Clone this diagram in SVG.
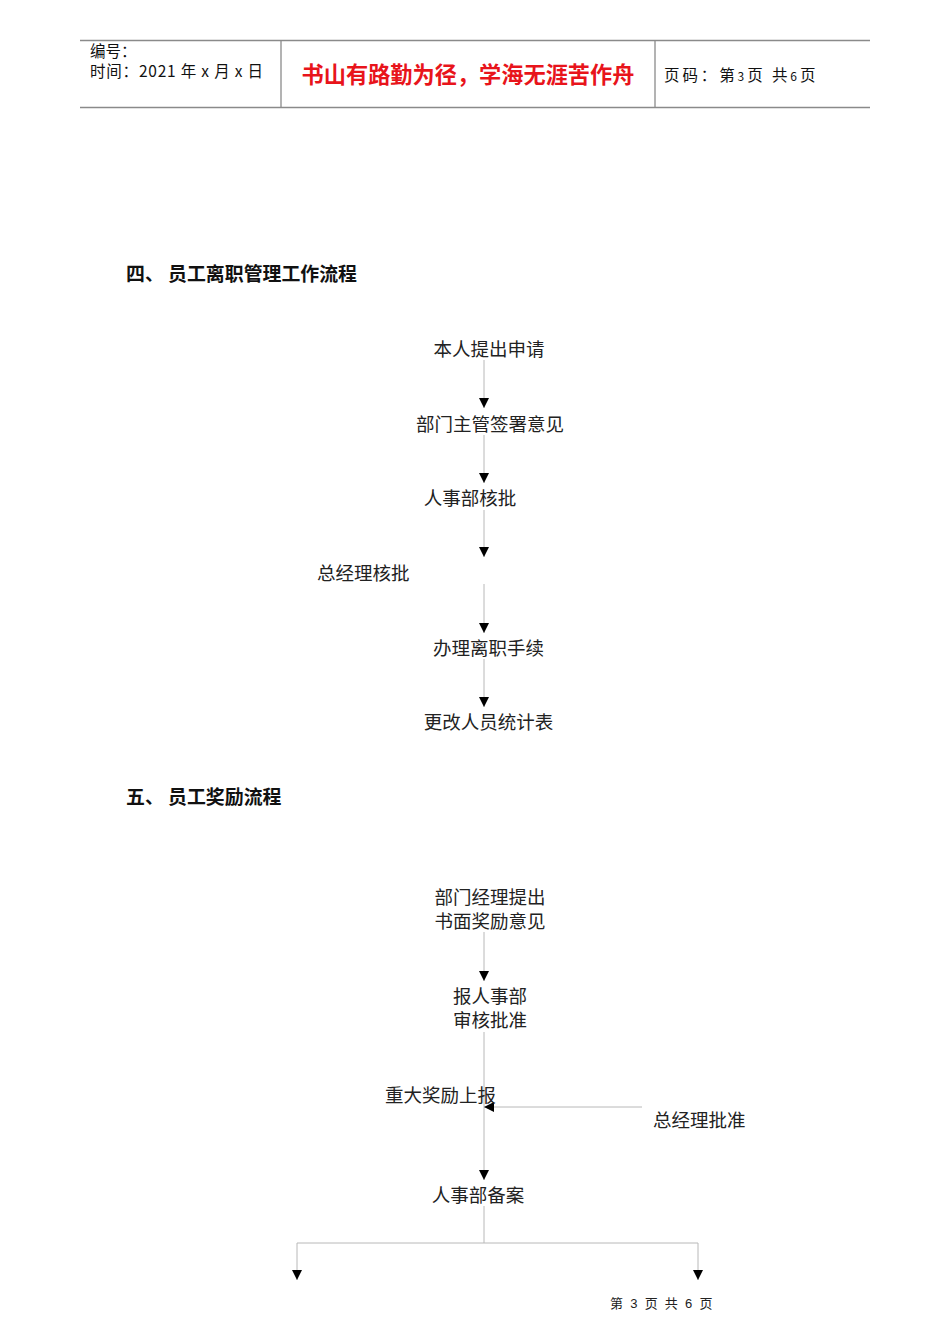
<svg xmlns="http://www.w3.org/2000/svg" width="950" height="1344" viewBox="0 0 950 1344">
<style>
.hdr{font-family:"Noto Sans CJK SC","Liberation Sans",sans-serif;font-size:15.5px;fill:#111}
.title{font-family:"Noto Sans CJK SC",sans-serif;font-size:22.2px;font-weight:bold;fill:#e8141b}
.sec{font-family:"Noto Sans CJK SC",sans-serif;font-size:18.9px;font-weight:bold;fill:#111}
.node{font-family:"Noto Sans CJK SC",sans-serif;font-size:18.5px;fill:#222}
.mid{text-anchor:middle}
.foot{font-family:"Liberation Sans","Noto Sans CJK SC",sans-serif;font-size:13px;fill:#222;letter-spacing:1.8px}
.frame{stroke:#8a8a8a;stroke-width:1.3;fill:none}
.conn{stroke:#b8b8b8;stroke-width:1;fill:none}
</style>
<defs>
<marker id="arr" viewBox="0 0 10 10" refX="10" refY="5" markerWidth="10" markerHeight="11" markerUnits="userSpaceOnUse" orient="auto">
<path d="M0,0 L10,5 L0,10 z" fill="#000"/>
</marker>
</defs>
<rect width="950" height="1344" fill="#fff"/>
<g id="header">
<line class="frame" x1="80" y1="40.5" x2="870" y2="40.5"/>
<line class="frame" x1="80" y1="107.5" x2="870" y2="107.5"/>
<line class="frame" x1="281" y1="40.5" x2="281" y2="107.5"/>
<line class="frame" x1="655" y1="40.5" x2="655" y2="107.5"/>
<text class="hdr" x="90" y="57">编号：</text>
<text class="hdr" x="90" y="77" letter-spacing="0.8">时间：2021 年 x 月 x 日</text>
<text class="title" x="468" y="83" text-anchor="middle">书山有路勤为径，学海无涯苦作舟</text>
<text class="hdr" x="664" y="81" font-size="15.5" letter-spacing="2.9">页码：第<tspan font-size="12">3</tspan>页 共<tspan font-size="12">6</tspan>页</text>
</g>
<g id="section4"><text class="sec" x="126" y="281">四、 员工离职管理工作流程</text></g>
<g id="section5"><text class="sec" x="126" y="804">五、 员工奖励流程</text></g>
<g id="connectors">
<line class="conn" x1="484" y1="360" x2="484" y2="408" marker-end="url(#arr)"/>
<line class="conn" x1="484" y1="435" x2="484" y2="483" marker-end="url(#arr)"/>
<line class="conn" x1="484" y1="510" x2="484" y2="557" marker-end="url(#arr)"/>
<line class="conn" x1="484" y1="584" x2="484" y2="633" marker-end="url(#arr)"/>
<line class="conn" x1="484" y1="659" x2="484" y2="707" marker-end="url(#arr)"/>
<line class="conn" x1="484" y1="932" x2="484" y2="981" marker-end="url(#arr)"/>
<line class="conn" x1="484" y1="1032" x2="484" y2="1180" marker-end="url(#arr)"/>
<line class="conn" x1="642" y1="1107" x2="484" y2="1107" marker-end="url(#arr)"/>
<polyline class="conn" points="484,1206 484,1243 297,1243 297,1280" marker-end="url(#arr)"/>
<polyline class="conn" points="484,1243 698,1243 698,1280" marker-end="url(#arr)"/>
</g>
<g id="n1"><text class="node mid" x="489" y="356">本人提出申请</text></g>
<g id="n2"><text class="node mid" x="490" y="431">部门主管签署意见</text></g>
<g id="n3"><text class="node mid" x="470" y="505">人事部核批</text></g>
<g id="n4"><text class="node" x="317" y="580">总经理核批</text></g>
<g id="n5"><text class="node mid" x="488.5" y="655">办理离职手续</text></g>
<g id="n6"><text class="node mid" x="488.5" y="729">更改人员统计表</text></g>
<g id="m1"><text class="node mid" x="490" y="904">部门经理提出</text><text class="node mid" x="490" y="928">书面奖励意见</text></g>
<g id="m2"><text class="node mid" x="490" y="1003">报人事部</text><text class="node mid" x="490" y="1027">审核批准</text></g>
<g id="m3"><text class="node" x="385" y="1102">重大奖励上报</text></g>
<g id="m4"><text class="node" x="653" y="1127">总经理批准</text></g>
<g id="m5"><text class="node mid" x="478" y="1202">人事部备案</text></g>
<g id="footer"><text class="foot" x="610" y="1308">第 3 页 共 6 页</text></g>
</svg>
